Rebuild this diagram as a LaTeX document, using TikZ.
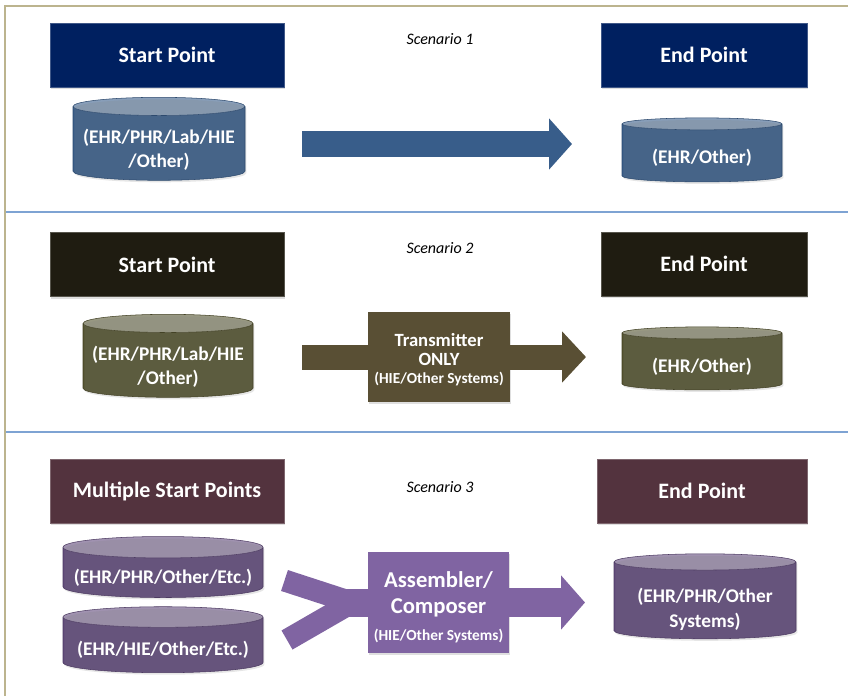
\documentclass[tikz,border=0pt]{standalone}
\usepackage{fontspec}
\setmainfont{Carlito}
\usetikzlibrary{shapes.geometric,arrows.meta,shadows}

\definecolor{navy}{HTML}{002060}
\definecolor{steel}{HTML}{385D8A}
\definecolor{coal}{HTML}{1F1C11}
\definecolor{olive}{HTML}{54532F}
\definecolor{trn}{HTML}{594F34}
\definecolor{plum}{HTML}{53333E}
\definecolor{grape}{HTML}{604A7B}
\definecolor{lilac}{HTML}{8064A2}
\definecolor{tan}{HTML}{BCB48E}
\definecolor{sepblue}{HTML}{7EA3D3}

\tikzset{
	head/.style={draw=#1!75!white, fill=#1, text=white, minimum height=48pt,
		font=\bfseries\fontsize{16.5}{19}\selectfont,
		drop shadow={shadow xshift=1pt, shadow yshift=-1.5pt, opacity=0.25}},
	box/.style={fill=#1, text=white, align=center, inner sep=0pt,
		font=\bfseries\fontsize{14}{14}\selectfont,
		drop shadow={shadow xshift=1pt, shadow yshift=-1.5pt, opacity=0.25}},
	db/.style={cylinder, shape border rotate=90, aspect=0.12, draw=#1!80!black,
		cylinder uses custom fill, cylinder body fill=#1, cylinder end fill=#1!60!white,
		text=white, align=center, inner sep=0pt,
		font=\bfseries\fontsize{14.5}{18.5}\selectfont,
		execute at begin node={\rule{0pt}{18pt}},
		drop shadow={shadow xshift=1pt, shadow yshift=-1.5pt, opacity=0.2}},
	scen/.style={font=\itshape\fontsize{12}{14}\selectfont},
	barrow/.style n args={3}{line width=#1, -{Triangle[length=#3, width=#2]}},
}

\begin{document}
\begin{tikzpicture}[x=0.75pt, y=-0.75pt]

	\useasboundingbox (0,0) rectangle (848,696);

	% frame and separators
	\draw [tan, line width=1.5pt] (5,696) -- (5,6) -- (848,6);
	\foreach \y in {212,432}
		\draw [sepblue, line width=1pt] (6,\y) -- (848,\y);

	% headings
	\foreach \l/\y [count=\i] in {1/39,2/248,3/487}
		\node [scen] (scen\i) at (440,\y) {Scenario \l};

	% start and end boxes
	\foreach \l/\c/\y [count=\i] in {Start Point/navy/55,Start Point/coal/264.5,Multiple Start Points/plum/491}
		\node [head=\c, minimum width=175.5pt] (start\i) at (167,\y) {\l};
	\foreach \c/\x/\y/\w [count=\i] in {navy/704/55/154.5pt,coal/704/264/154.5pt,plum/702/491/157.5pt}
		\node [head=\c, minimum width=\w] (end\i) at (\x,\y) {End Point};

	% scenario 1
	\node [db=steel, minimum width=129pt, minimum height=62.25pt] (src1) at (159,143.5) {\rule{0pt}{20pt}(EHR/PHR/Lab/HIE\\/Other)};
	\node [db=steel, minimum width=120pt, minimum height=48pt] (dst1) at (702,153) {(EHR/Other)};
	\coordinate (a1s) at (302,144);
	\coordinate (a1e) at (572,144);
	\draw [barrow={19.5pt}{37.5pt}{17.25pt}, steel] (a1s) -- (a1e);

	% scenario 2
	\node [db=olive, minimum width=127.5pt, minimum height=62.25pt] (src2) at (168,360.5) {\rule{0pt}{20pt}(EHR/PHR/Lab/HIE\\/Other)};
	\node [db=olive, minimum width=120pt, minimum height=47.25pt] (dst2) at (702,361.5) {(EHR/Other)};
	\coordinate (a2s) at (302,357);
	\coordinate (a2e) at (586,357);
	\draw [trn, line width=18.75pt] (a2s) -- (a2s -| 368,0);
	\node [box=trn, minimum width=106.5pt, minimum height=67.5pt] (trans) at (439,357)
		{\rule{0pt}{14pt}Transmitter\\ONLY\\{\fontsize{11.5}{13}\selectfont (HIE/Other Systems)}};
	\draw [barrow={18.75pt}{37.5pt}{18pt}, trn] (trans.east) -- (a2e);

	% scenario 3
	\node [db=grape, minimum width=150pt, minimum height=45.75pt] (srcA) at (163,572.5) {(EHR/PHR/Other/Etc.)};
	\node [db=grape, minimum width=150pt, minimum height=49.5pt] (srcB) at (163,645) {(EHR/HIE/Other/Etc.)};
	\node [db=grape, minimum width=136.5pt, minimum height=63.75pt] (dst3) at (705,600.5) {\rule{0pt}{24pt}(EHR/PHR/Other\\Systems)};

	% fork into assembler
	\coordinate (fa) at (284.5,580.5);
	\coordinate (fb) at (287,640);
	\coordinate (fj) at (352,602.5);
	\coordinate (fs) at (340,602.5);
	\draw [lilac, line width=16.5pt] (fa) -- (fj);
	\draw [lilac, line width=16.5pt] (fb) -- (fj);
	\draw [lilac, line width=21pt] (fs) -- (370,602.5);

	\node [box=lilac, minimum width=105.75pt, minimum height=75.75pt,
		font=\bfseries\fontsize{17}{20}\selectfont] (asm) at (438.5,602.5)
		{\rule{0pt}{19pt}Assembler/\\Composer\\{\fontsize{11.5}{14}\selectfont (HIE/Other Systems)}};
	\coordinate (a3e) at (585,602.5);
	\draw [barrow={21.75pt}{39.75pt}{18pt}, lilac] (asm.east) -- (a3e);

\end{tikzpicture}
\end{document}
